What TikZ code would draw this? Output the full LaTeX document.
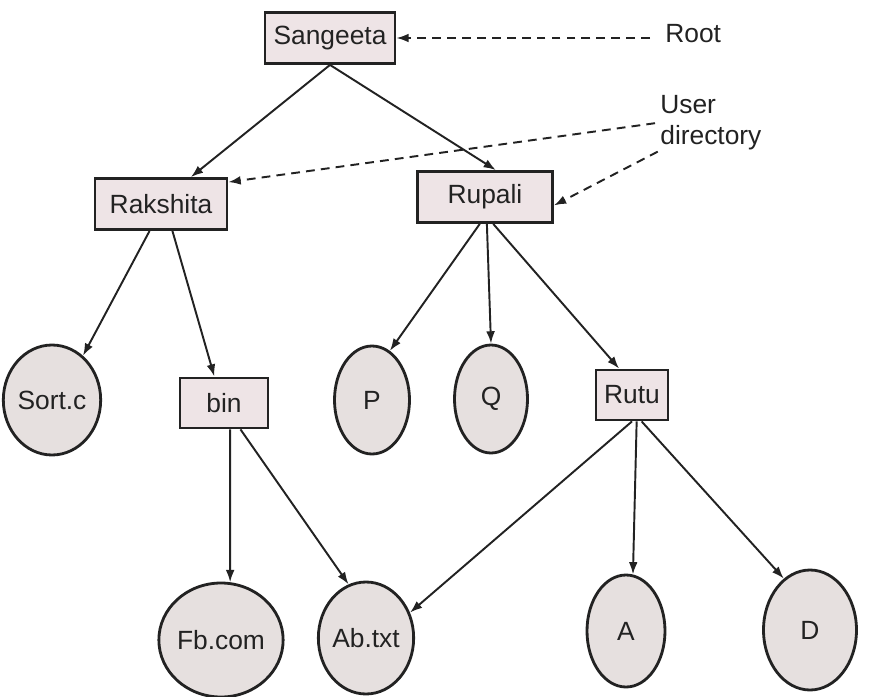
\documentclass[tikz,border=0pt]{standalone}
\usepackage{fontspec}
\setmainfont{Liberation Sans}
\usetikzlibrary{positioning,arrows.meta,shapes}
\definecolor{dirfill}{HTML}{EEE4E6}
\definecolor{filefill}{HTML}{E6E0DF}
\definecolor{ink}{HTML}{222222}
\tikzset{
    auto,
    every node/.style = {
        font=\fontsize{15}{18}\selectfont,
        text=ink
    },
    folder/.style = {
        draw=ink,
        shape=rectangle,
        fill=dirfill,
        minimum height=1.02cm,
        line width=1.6pt
    },
    file/.style = {
        draw=ink,
        shape=ellipse,
        fill=filefill,
        inner sep=0pt,
        line width=1.6pt
    },
    link/.style = {
        draw=ink,
        ->,
        line width=1.1pt
    },
    pointer/.style = {
        draw=ink,
        ->,
        line width=1.1pt,
        dash pattern=on 5pt off 3.5pt
    },
    >={Latex[length=7pt,width=5pt]},
}

\begin{document}
\begin{tikzpicture}
            \useasboundingbox (0,0) rectangle (17.46,-13.94);

            % directories
            \node[folder, minimum width=2.6cm] (sangeeta) at (6.6,-0.76) {Sangeeta};
            \node[folder, minimum width=2.64cm] (rakshita) at (3.22,-4.08) {Rakshita};
            \node[folder, minimum width=2.7cm] (rupali) at (9.7,-3.94) {Rupali};
            \node[folder, minimum width=1.76cm, minimum height=1cm] (bin) at (4.48,-8.06) {bin};
            \node[folder, minimum width=1.44cm, minimum height=1cm] (rutu) at (12.64,-7.9) {Rutu};

            % files
            \node[file, minimum width=1.68cm, minimum height=2.2cm] (sortc) at (1.04,-8.0) {Sort.c};
            \node[file, minimum width=1.5cm, minimum height=2.16cm] (p) at (7.44,-8.0) {P};
            \node[file, minimum width=1.46cm, minimum height=2.16cm] (q) at (9.82,-7.98) {Q};
            \node[file, minimum width=1.64cm, minimum height=2.28cm] (fbcom) at (4.42,-12.8) {Fb.com};
            \node[file, minimum width=1.56cm, minimum height=2.24cm] (abtxt) at (7.32,-12.76) {Ab.txt};
            \node[file, minimum width=1.56cm, minimum height=2.24cm] (a) at (12.52,-12.62) {A};
            \node[file, minimum width=1.86cm, minimum height=2.4cm] (d) at (16.2,-12.6) {D};

            % labels
            \node[anchor=west, inner sep=0pt] (root) at (13.3,-0.68) {Root};
            \node[anchor=west, align=left, inner sep=0pt] (userdir) at (13.2,-2.45) {User\\directory};

            \path[link] (sangeeta.south) -- (rakshita.42);
            \path[link] (sangeeta.south) -- (rupali.68);

            \path[link] (rakshita.247) -- (sortc.55);
            \path[link] (rakshita.293) -- (bin.110);

            \path[link] (rupali.259) -- (p.70);
            \path[link] (rupali.274) -- (q.north);
            \path[link] (rupali.287) -- (rutu.116);

            \path[link] (bin.283) -- (fbcom.81);
            \path[link] (bin.302) -- (abtxt.108);

            \path[link] (rutu.270) -- (abtxt.30);
            \path[link] (rutu.280) -- (a.83);
            \path[link] (rutu.290) -- (d.117);

            \path[pointer, shorten <=0.3cm] (root.west |- sangeeta.east) -- (sangeeta.east);
            \path[pointer, shorten <=0.1cm] (userdir.west) -- (rakshita.18);
            \path[pointer, shorten <=0.05cm] (userdir.south west) -- (rupali.353);

        \end{tikzpicture}
\end{document}
